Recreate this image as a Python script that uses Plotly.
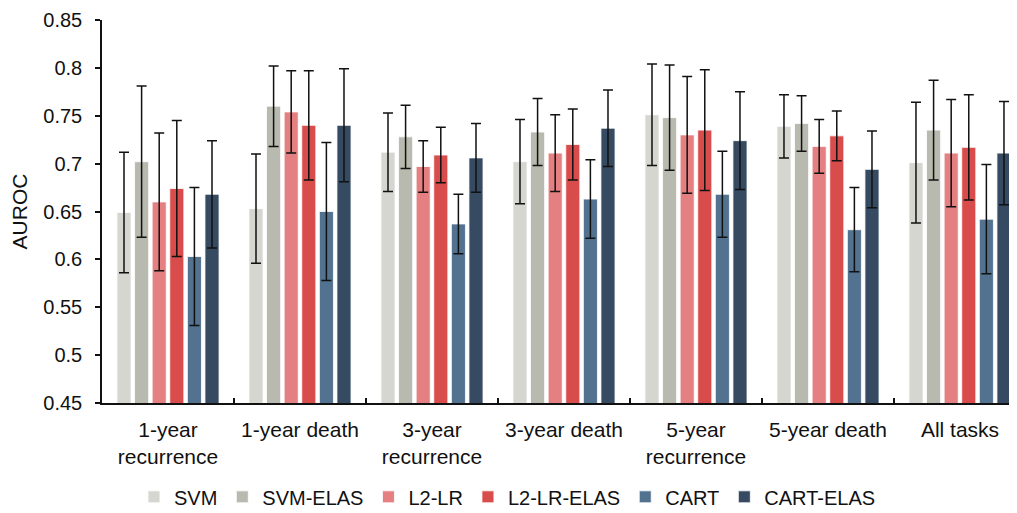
import plotly.graph_objects as go

categories = ["1-year<br>recurrence", "1-year death", "3-year<br>recurrence",
              "3-year death", "5-year<br>recurrence", "5-year death", "All tasks"]
series_names = ["SVM", "SVM-ELAS", "L2-LR", "L2-LR-ELAS", "CART", "CART-ELAS"]

svm = [0.649, 0.653, 0.712, 0.702, 0.751, 0.739, 0.701]
svm_elas = [0.702, 0.760, 0.728, 0.733, 0.748, 0.742, 0.735]
l2lr = [0.660, 0.754, 0.697, 0.711, 0.730, 0.718, 0.711]
l2lr_elas = [0.674, 0.740, 0.709, 0.720, 0.735, 0.729, 0.717]
cart = [0.603, 0.650, 0.637, 0.663, 0.668, 0.631, 0.642]
cart_elas = [0.668, 0.740, 0.706, 0.737, 0.724, 0.694, 0.711]

svm_err = [0.063, 0.057, 0.041, 0.044, 0.053, 0.033, 0.063]
svm_elas_err = [0.079, 0.042, 0.033, 0.035, 0.055, 0.029, 0.052]
l2lr_err = [0.072, 0.043, 0.027, 0.040, 0.061, 0.028, 0.056]
l2lr_elas_err = [0.071, 0.057, 0.029, 0.037, 0.063, 0.026, 0.055]
cart_err = [0.072, 0.072, 0.031, 0.041, 0.045, 0.044, 0.057]
cart_elas_err = [0.056, 0.059, 0.036, 0.040, 0.051, 0.040, 0.054]

colors = ["#d5d6d0", "#b8b9af", "#e48081", "#d94c4c", "#52728f", "#364b61"]

values = [svm, svm_elas, l2lr, l2lr_elas, cart, cart_elas]
errors = [svm_err, svm_elas_err, l2lr_err, l2lr_elas_err, cart_err, cart_elas_err]

fig = go.Figure()
for name, vals, errs, col in zip(series_names, values, errors, colors):
    fig.add_trace(go.Bar(
        name=name, x=categories, y=vals,
        marker=dict(color=col, line=dict(color="rgba(255,255,255,0.8)", width=1)),
        error_y=dict(type="data", array=errs, visible=True,
                     color="#111111", thickness=1.5, width=5),
    ))

font_family = "Liberation Sans, Arial, sans-serif"
# page body has an 8px margin, so the figure is shrunk by 8px and margins offset
fig.update_layout(
    width=1009, height=505,
    barmode="group", bargap=0.2, bargroupgap=0.2,
    paper_bgcolor="white", plot_bgcolor="white",
    margin=dict(l=94, r=0, t=12, b=110, autoexpand=False),
    font=dict(family=font_family, size=20, color="#111111"),
    showlegend=True,
    legend=dict(orientation="h", xref="container", x=0.495, xanchor="center",
                yref="container", y=0.032, yanchor="middle",
                font=dict(size=20), itemwidth=30, traceorder="normal"),
)
fig.update_xaxes(
    range=[-0.5, 6.432], showline=True, linecolor="#111111", linewidth=1.5,
    ticks="inside", tickson="boundaries", ticklen=5, tickcolor="#111111",
    tickwidth=1.5, showgrid=False, tickfont=dict(size=21), automargin=False,
    ticklabelstandoff=7,
)
fig.update_yaxes(
    range=[0.45, 0.85], dtick=0.05, tickformat="~g",
    showline=True, linecolor="#111111", linewidth=1.5,
    ticks="outside", ticklen=5, tickcolor="#111111", tickwidth=1.5,
    showgrid=False, zeroline=False, tickfont=dict(size=20), automargin=False,
    ticklabelstandoff=9,
    title=dict(text="AUROC", font=dict(size=21), standoff=10),
)

fig.write_html("out.html")
